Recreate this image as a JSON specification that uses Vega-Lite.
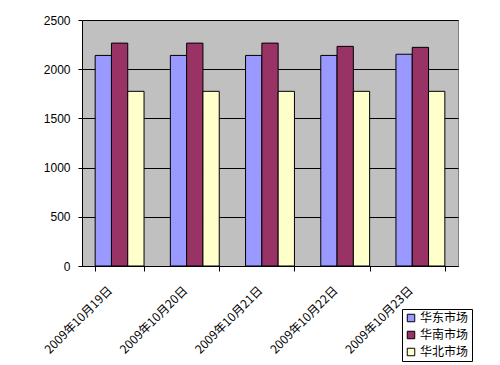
{
  "$schema": "https://vega.github.io/schema/vega-lite/v6.json",
  "width": 376,
  "height": 246,
  "autosize": {"type": "none"},
  "padding": {"left": 82, "top": 20, "right": 42, "bottom": 99},
  "background": "white",
  "data": {
    "values": [
      {"date": "2009年10月19日", "market": "华东市场", "value": 2140},
      {"date": "2009年10月19日", "market": "华南市场", "value": 2265},
      {"date": "2009年10月19日", "market": "华北市场", "value": 1775},
      {"date": "2009年10月20日", "market": "华东市场", "value": 2140},
      {"date": "2009年10月20日", "market": "华南市场", "value": 2265},
      {"date": "2009年10月20日", "market": "华北市场", "value": 1775},
      {"date": "2009年10月21日", "market": "华东市场", "value": 2140},
      {"date": "2009年10月21日", "market": "华南市场", "value": 2265},
      {"date": "2009年10月21日", "market": "华北市场", "value": 1775},
      {"date": "2009年10月22日", "market": "华东市场", "value": 2140},
      {"date": "2009年10月22日", "market": "华南市场", "value": 2232},
      {"date": "2009年10月22日", "market": "华北市场", "value": 1775},
      {"date": "2009年10月23日", "market": "华东市场", "value": 2152},
      {"date": "2009年10月23日", "market": "华南市场", "value": 2222},
      {"date": "2009年10月23日", "market": "华北市场", "value": 1775}
    ]
  },
  "mark": {"type": "bar", "stroke": "black", "strokeWidth": 1},
  "encoding": {
    "x": {
      "field": "date",
      "type": "nominal",
      "scale": {"paddingInner": 0.35, "paddingOuter": 0.175},
      "axis": {
        "title": null,
        "labelAngle": -45,
        "labelAlign": "right",
        "labelBaseline": "middle",
        "labelFont": "Noto Sans CJK SC",
        "labelFontSize": 12,
        "labelColor": "black",
        "labelPadding": 17,
        "labelOffset": -10,
        "domainColor": "black",
        "tickColor": "black",
        "tickBand": "extent",
        "tickSize": 5,
        "grid": false
      }
    },
    "xOffset": {
      "field": "market",
      "type": "nominal",
      "sort": ["华东市场", "华南市场", "华北市场"],
      "scale": {"paddingInner": 0, "paddingOuter": 0}
    },
    "y": {
      "field": "value",
      "type": "quantitative",
      "scale": {"domain": [0, 2500]},
      "axis": {
        "title": null,
        "values": [0, 500, 1000, 1500, 2000, 2500],
        "format": "d",
        "labelFont": "Liberation Sans",
        "labelFontSize": 12,
        "labelColor": "black",
        "labelPadding": 8,
        "domainColor": "black",
        "tickColor": "black",
        "tickSize": 4,
        "grid": true,
        "gridColor": "black",
        "gridOpacity": 1
      }
    },
    "color": {
      "field": "market",
      "type": "nominal",
      "sort": ["华东市场", "华南市场", "华北市场"],
      "scale": {
        "domain": ["华东市场", "华南市场", "华北市场"],
        "range": ["#9999FF", "#993366", "#FFFFCC"]
      },
      "legend": {
        "title": null,
        "orient": "none",
        "legendX": 320,
        "legendY": 289,
        "strokeColor": "black",
        "fillColor": "white",
        "padding": 3,
        "symbolType": "square",
        "symbolSize": 56,
        "symbolStrokeColor": "black",
        "symbolStrokeWidth": 1,
        "labelFont": "Noto Sans CJK SC",
        "labelFontSize": 12,
        "labelColor": "black",
        "rowPadding": 5,
        "labelOffset": 3
      }
    }
  },
  "config": {
    "view": {"fill": "#C0C0C0", "stroke": "#808080"}
  }
}
